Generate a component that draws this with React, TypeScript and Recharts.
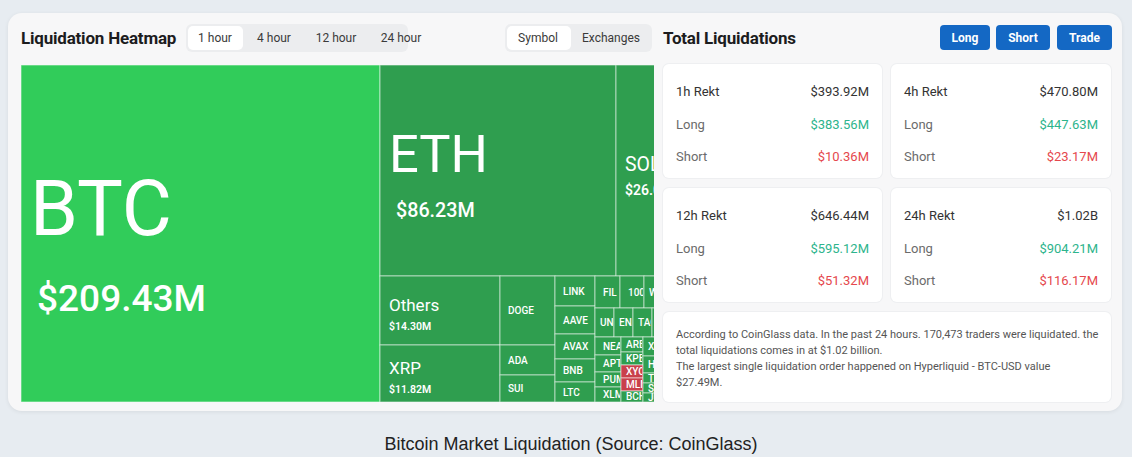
import React from 'react';
import { Treemap } from 'recharts';

const coinNames = ['BTC','ETH','SOL','Others','XRP','DOGE','ADA','SUI','LINK','AAVE','AVAX','BNB','LTC','FIL','1000PEPE','WLD','HYPE','UNI','ENA','TAO','ONDO','WIF','NEAR','APT','PUMP','XLM','ARB','KPEPE','XYO','MLN','BCH','XMR','FET','LAYER','FARTCOIN','HBAR','TRUMP','OP','INJ','TIA','SEI','JUP','DOT','ETC','TRX','ORDI','WLFI','S','CRV'];
const coinValues = [209.43,86.23,26.04,14.30,11.82,6.6,2.9,2.5,2.05,1.92,1.72,1.56,1.55,1.36,1.34,1.24,1.2,0.97,0.95,0.93,0.92,0.90,0.80,0.78,0.68,0.64,0.56,0.50,0.50,0.48,0.47,0.41,0.38,0.37,0.35,0.34,0.33,0.32,0.31,0.30,0.29,0.28,0.27,0.26,0.25,0.24,0.23,0.22,0.20];
const strongLongCoins = ['BTC'];
const shortLedCoins = ['XYO','MLN','LAYER'];

const timeTabs = ['1 hour','4 hour','12 hour','24 hour'];
const viewTabs = ['Symbol','Exchanges'];
const actionButtons = ['Long','Short','Trade'];

const rektPeriods = ['1h Rekt','4h Rekt','12h Rekt','24h Rekt'];
const rektTotals = ['$393.92M','$470.80M','$646.44M','$1.02B'];
const rektLongs = ['$383.56M','$447.63M','$595.12M','$904.21M'];
const rektShorts = ['$10.36M','$23.17M','$51.32M','$116.17M'];

const summaryLines = [
  'According to CoinGlass data. In the past 24 hours. 170,473 traders were liquidated. the',
  'total liquidations comes in at $1.02 billion.',
  'The largest single liquidation order happened on Hyperliquid - BTC-USD value',
  '$27.49M.',
];

const treeData = coinNames.map((name, i) => ({
  name,
  value: coinValues[i],
  tone: strongLongCoins.includes(name) ? 'strong' : shortLedCoins.includes(name) ? 'short' : 'long',
}));

const FONT = 'Roboto, "Noto Sans", sans-serif';

const Cell = (props: any) => {
  const { x, y, width, height, depth, name, value, tone, index } = props;
  if (depth !== 1 || width <= 0 || height <= 0) return null;
  const fill = tone === 'strong' ? '#31CC5A' : tone === 'short' ? '#C9404B' : '#2F9E4F';
  const big = width > 60 && height > 45;
  const clipId = `cellclip-${index}`;
  const cy = y + height / 2;
  let content: React.ReactNode;
  if (big) {
    const s = Math.sqrt(width * height);
    let nf = Math.max(10, Math.min(77, s * 0.235, width * 0.27));
    if (s < 100) nf = Math.min(nf, 17);
    const vf = Math.max(height > 150 ? 14 : 10.5, Math.min(40, 0.139 * s - 11.3));
    const nameBase = cy + nf * 0.02;
    const valBase = cy + nf * 0.45 + vf * 1.15;
    const vx = x + (width > 200 ? 16 : 9);
    content = (
      <>
        <text x={x + 9} y={nameBase} fontSize={nf} fill="#fff" fontFamily={FONT} fontWeight={400}>{name}</text>
        <text x={vx} y={valBase} fontSize={vf} fill="#fff" fontFamily={FONT} fontWeight={width > 200 ? 500 : 600}>{`$${Number(value).toFixed(2)}M`}</text>
      </>
    );
  } else {
    content = (
      <text x={x + (width < 23 ? 5 : 8)} y={cy} dominantBaseline="central" fontSize={10} fill="#fff" fontFamily={FONT} fontWeight={500}>{name}</text>
    );
  }
  return (
    <g>
      <rect x={x} y={y} width={width} height={height} fill={fill} stroke="#ffffff" strokeOpacity={0.55} strokeWidth={1} />
      <clipPath id={clipId}>
        <rect x={x} y={y} width={Math.max(0, width - 1)} height={height} />
      </clipPath>
      <g clipPath={`url(#${clipId})`}>{content}</g>
    </g>
  );
};

const abs = (l: number, t: number, w: number, h: number): React.CSSProperties => ({
  position: 'absolute', left: l, top: t, width: w, height: h,
});

export default function App() {
  const tabCenters = [215, 274, 336, 401];
  const viewCenters = [538, 611];
  const btnLefts = [940, 996, 1057];
  const btnWidths = [50, 54, 55];
  const cardPos = [[663, 64], [891, 64], [663, 188], [891, 188]];
  return (
    <div style={{ position: 'absolute', left: 0, top: 0, width: 1132, height: 457, background: '#E7ECF1', overflow: 'hidden', fontFamily: FONT }}>
      <div style={{ ...abs(8, 13, 1114, 398), background: '#F7F7F8', borderRadius: 14, boxShadow: '0 1px 4px rgba(0,0,0,0.07)' }} />

      <div style={{ position: 'absolute', left: 21, top: 28, fontSize: 17, fontWeight: 700, color: '#1c1c1e', whiteSpace: 'nowrap', letterSpacing: -0.2 }}>Liquidation Heatmap</div>
      <div style={{ ...abs(186, 24, 222, 28), background: '#ECEDEF', borderRadius: 6 }} />
      <div style={{ ...abs(188, 26, 55, 24), background: '#fff', borderRadius: 5 }} />
      {timeTabs.map((t, i) => (
        <div key={t} style={{ position: 'absolute', left: tabCenters[i] - 40, width: 80, top: 31, fontSize: 12, color: '#3a3a3a', textAlign: 'center' }}>{t}</div>
      ))}
      <div style={{ ...abs(505, 24, 147, 28), background: '#ECEDEF', borderRadius: 6 }} />
      <div style={{ ...abs(507, 26, 64, 24), background: '#fff', borderRadius: 5 }} />
      {viewTabs.map((t, i) => (
        <div key={t} style={{ position: 'absolute', left: viewCenters[i] - 40, width: 80, top: 31, fontSize: 12, color: '#3a3a3a', textAlign: 'center' }}>{t}</div>
      ))}

      <div style={{ ...abs(21, 65, 633, 337), overflow: 'hidden' }}>
        <Treemap
          width={667}
          height={337}
          data={treeData}
          dataKey="value"
          nameKey="name"
          isAnimationActive={false}
          content={<Cell />}
        />
      </div>

      <div style={{ position: 'absolute', left: 663, top: 28, fontSize: 17, fontWeight: 700, color: '#1c1c1e', whiteSpace: 'nowrap', letterSpacing: -0.2 }}>Total Liquidations</div>
      {actionButtons.map((b, i) => (
        <div key={b} style={{ ...abs(btnLefts[i], 25, btnWidths[i], 25), background: '#1468C4', borderRadius: 4, color: '#fff', fontSize: 12, fontWeight: 700, display: 'flex', alignItems: 'center', justifyContent: 'center' }}>{b}</div>
      ))}

      {rektPeriods.map((p, i) => {
        const [l, t] = cardPos[i];
        const w = i % 2 === 0 ? 219 : 220;
        const row = (label: string, val: string, top: number, lc: string, vc: string) => (
          <div style={{ position: 'absolute', left: 13, right: 13, top, height: 18, display: 'flex', justifyContent: 'space-between', alignItems: 'center', fontSize: 13 }}>
            <span style={{ color: lc }}>{label}</span>
            <span style={{ color: vc }}>{val}</span>
          </div>
        );
        return (
          <div key={p} style={{ ...abs(l, t, w, 114), background: '#fff', borderRadius: 6, boxShadow: '0 0 0 1px #EEEFF1' }}>
            {row(p, rektTotals[i], 18, '#333', '#333')}
            {row('Long', rektLongs[i], 51, '#6b6b6b', '#2DB48C')}
            {row('Short', rektShorts[i], 83, '#6b6b6b', '#E5484D')}
          </div>
        );
      })}

      <div style={{ ...abs(663, 312, 448, 90), background: '#fff', borderRadius: 6, boxShadow: '0 0 0 1px #EEEFF1' }}>
        <div style={{ position: 'absolute', left: 13, top: 15, fontSize: 11, lineHeight: '16px', color: '#555' }}>
          {summaryLines.map((ln) => (
            <div key={ln} style={{ whiteSpace: 'nowrap' }}>{ln}</div>
          ))}
        </div>
      </div>

      <div style={{ position: 'absolute', left: 0, width: 1142, top: 434, textAlign: 'center', fontFamily: '"Liberation Sans", Arial, sans-serif', fontSize: 18, color: '#222' }}>
        Bitcoin Market Liquidation (Source: CoinGlass)
      </div>
    </div>
  );
}
